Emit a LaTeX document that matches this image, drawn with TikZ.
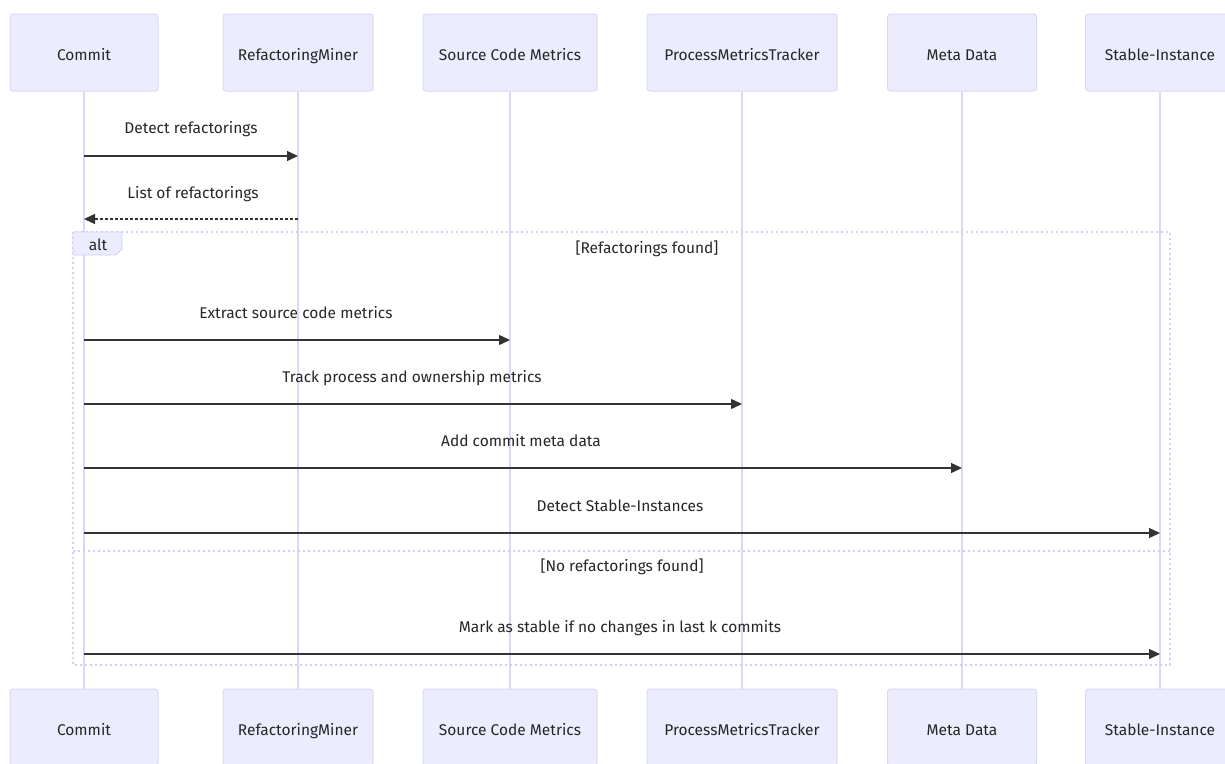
\documentclass[tikz,border=0pt]{standalone}
\usepackage{fontspec}
\setmainfont{Fira Sans}
\usetikzlibrary{arrows.meta}
\definecolor{actfill}{HTML}{ECECFF}
\definecolor{actline}{HTML}{DDD6F6}
\definecolor{msg}{HTML}{333333}
\definecolor{frm}{HTML}{D6CCF5}
\begin{document}
\begin{tikzpicture}[x=1pt,y=-1pt,
  actor/.style={draw=actline,fill=actfill,rounded corners=3pt,line width=1pt,minimum height=77pt,inner sep=0pt,text height=15pt,text depth=0pt,font=\fontsize{15.5}{18}\selectfont,text=black!85},
  life/.style={draw=actline,line width=1.2pt},
  msgline/.style={draw=msg,line width=1.3pt,-{Triangle[length=11pt,width=10pt]}},
  msgdash/.style={draw=msg,line width=1.3pt,dash pattern=on 3pt off 2pt,-{Triangle[length=11pt,width=10pt]}},
  lbl/.style={font=\fontsize{15.5}{18}\selectfont,text=black!85,inner sep=0pt,text height=11pt,text depth=3pt},
  frame/.style={draw=frm,line width=1.2pt,dash pattern=on 2pt off 3pt}]
\useasboundingbox (0,0) rectangle (1225,763);
\clip (0,0) rectangle (1225,763);
% actors
\foreach \n/\x/\w/\t in {a/84/148/Commit, b/298/150/RefactoringMiner, c/510/174/Source Code Metrics, d/742/190/ProcessMetricsTracker, e/962/149/Meta Data, f/1160/149/Stable-Instance}{
  \node[actor,minimum width=\w pt] (\n t) at (\x,52.5) {\t};
  \node[actor,minimum width=\w pt] (\n b) at (\x,727.5) {\t};
  \draw[life] (\n t.south) -- (\n b.north);
}
% frame
\coordinate (fr1) at (73,232);
\coordinate (fr2) at (1170,665);
\draw[frame] (fr1) rectangle (fr2);
\coordinate (sepL) at (73,551);
\coordinate (sepR) at (1170,551);
\draw[frame] (sepL) -- (sepR);
\draw[fill=actfill,draw=frm,line width=0.8pt] (73,232) -- (122,232) -- (122,249) -- (116,255) -- (73,255) -- cycle;
\node[lbl,anchor=center] (altl) at (98,246) {alt};
\node[lbl] (g1) at (647,249) {[Refactorings found]};
\node[lbl] (g2) at (622,567) {[No refactorings found]};
% messages
\coordinate (m1a) at (84,156); \coordinate (m1b) at (298,156);
\draw[msgline] (m1a) -- (m1b);
\node[lbl] (l1) at (191,129) {Detect refactorings};
\coordinate (m2a) at (298,219); \coordinate (m2b) at (84,219);
\draw[msgdash] (m2a) -- (m2b);
\node[lbl] (l2) at (193,194) {List of refactorings};
\coordinate (m3a) at (84,340); \coordinate (m3b) at (510,340);
\draw[msgline] (m3a) -- (m3b);
\node[lbl] (l3) at (296,314) {Extract source code metrics};
\coordinate (m4a) at (84,404); \coordinate (m4b) at (742,404);
\draw[msgline] (m4a) -- (m4b);
\node[lbl] (l4) at (412,378) {Track process and ownership metrics};
\coordinate (m5a) at (84,468); \coordinate (m5b) at (962,468);
\draw[msgline] (m5a) -- (m5b);
\node[lbl] (l5) at (521,442) {Add commit meta data};
\coordinate (m6a) at (84,533); \coordinate (m6b) at (1160,533);
\draw[msgline] (m6a) -- (m6b);
\node[lbl] (l6) at (620,507) {Detect Stable-Instances};
\coordinate (m7a) at (84,654); \coordinate (m7b) at (1160,654);
\draw[msgline] (m7a) -- (m7b);
\node[lbl] (l7) at (620,628) {Mark as stable if no changes in last k commits};
\end{tikzpicture}
\end{document}
